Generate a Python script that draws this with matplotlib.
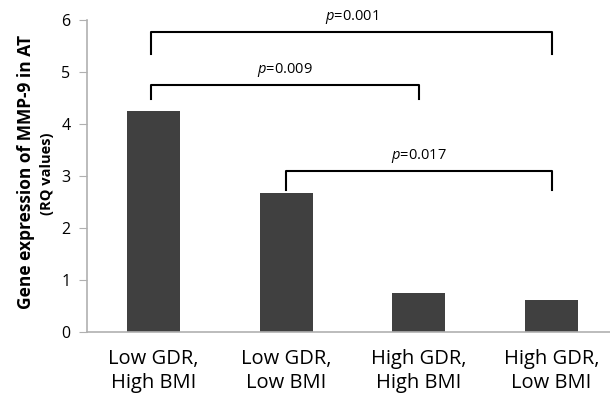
import matplotlib
matplotlib.use('Agg')
import matplotlib.pyplot as plt

# data
groups = ['Low GDR,\nHigh BMI', 'Low GDR,\nLow BMI', 'High GDR,\nHigh BMI', 'High GDR,\nLow BMI']
rq_values = [4.24, 2.68, 0.75, 0.63]
# comparisons: (left bar, right bar), bracket height, leg bottom, p label
pairs = [(0, 3), (0, 2), (1, 3)]
bracket_top = [5.76, 4.74, 3.09]
bracket_leg = [5.35, 4.48, 2.73]
p_labels = ['0.001', '0.009', '0.017']

plt.rcParams['font.family'] = ['Open Sans', 'DejaVu Sans']
plt.rcParams['mathtext.fontset'] = 'custom'
plt.rcParams['mathtext.it'] = 'Open Sans:italic'
plt.rcParams['mathtext.rm'] = 'Open Sans'

fig = plt.figure(figsize=(6.1, 4.03), dpi=100)
ax = fig.add_axes([0.1426, 0.1754, 0.8574, 0.7754])

ax.bar(range(len(groups)), rq_values, width=0.4, color='#404040')

for (a, b), top, leg, p in zip(pairs, bracket_top, bracket_leg, p_labels):
    xa = a - 0.02 if a == 0 else a
    ax.plot([xa, xa, b, b], [leg, top, top, leg], color='black', lw=1.5,
            solid_joinstyle='round', clip_on=False)
    ax.text((xa + b) / 2, top + 0.12, '$p$=' + p, ha='center', va='bottom',
            fontsize=10.5, clip_on=False)

ax.set_xlim(-0.5, 3.44)
ax.set_ylim(0, 6)
ax.set_yticks(range(7))
ax.set_xticks(range(len(groups)))
ax.set_xticklabels(groups, fontsize=14.5, linespacing=1.25)
ax.tick_params(axis='x', length=0, pad=12)
ax.tick_params(axis='y', length=6, color='#b0b0b0', labelsize=11.5, pad=6)

for s in ['top', 'right']:
    ax.spines[s].set_visible(False)
for s in ['left', 'bottom']:
    ax.spines[s].set_color('#b0b0b0')
    ax.spines[s].set_linewidth(1.2)

fig.text(0.042, 0.574, 'Gene expression of MMP-9 in AT', rotation=90,
         ha='center', va='center', fontsize=12.5, fontweight='bold')
fig.text(0.077, 0.568, '(RQ values)', rotation=90,
         ha='center', va='center', fontsize=10.5, fontweight='bold')

fig.savefig('out.png', dpi=100)
